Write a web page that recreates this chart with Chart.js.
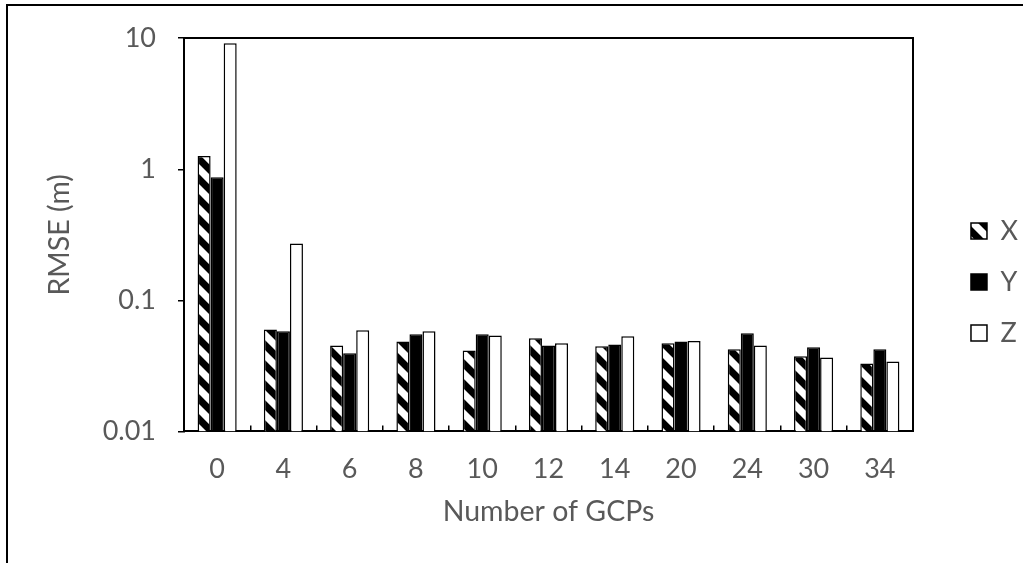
<!DOCTYPE html>
<html>
<head>
<meta charset="utf-8">
<script src="https://cdn.jsdelivr.net/npm/chart.js@4.4.1/dist/chart.umd.min.js"></script>
<style>
  html, body { margin: 0; padding: 0; background: #fff; overflow: hidden; }
  #wrap { position: relative; width: 1023px; height: 563px; }
  #frame { position: absolute; left: 6px; top: 4px; right: -20px; bottom: -20px; border: 2px solid #000; pointer-events: none; }
</style>
</head>
<body>
<div id="wrap">
  <canvas id="rmseChart" width="1023" height="563"></canvas>
  <div id="frame"></div>
</div>
<script>
// number of GCPs on the x axis
var gcps = ['0', '4', '6', '8', '10', '12', '14', '20', '24', '30', '34'];

// RMSE (m) per direction
var rmseX = [1.26, 0.060, 0.0453, 0.0486, 0.0415, 0.0513, 0.0446, 0.047, 0.0423, 0.0374, 0.033];
var rmseY = [0.87, 0.058, 0.0394, 0.055, 0.055, 0.0453, 0.0461, 0.0486, 0.056, 0.0438, 0.0423];
var rmseZ = [9.16, 0.272, 0.059, 0.058, 0.054, 0.047, 0.0531, 0.049, 0.0453, 0.0367, 0.0342];

// y tick labels (log scale)
var yTicks = [0.01, 0.1, 1, 10];
var yTitle = 'RMSE (m)';

var grey = '#595959';
var font = 'Lato, "Open Sans", sans-serif';

// wide diagonal hatch for the X bars
function hatch() {
  var c = document.createElement('canvas');
  c.width = 20; c.height = 20;
  var g = c.getContext('2d');
  g.fillStyle = '#fff';
  g.fillRect(0, 0, 20, 20);
  g.strokeStyle = '#000';
  g.lineWidth = 7;
  g.beginPath();
  g.moveTo(-5, -5); g.lineTo(25, 25);
  g.moveTo(-5, 15); g.lineTo(5, 25);
  g.moveTo(15, -5); g.lineTo(25, 5);
  g.stroke();
  return g.createPattern(c, 'repeat');
}

// y axis title, centred on the plot area
var yTitlePlugin = {
  id: 'yTitle',
  afterDraw: function(chart) {
    var c = chart.ctx, area = chart.chartArea;
    c.save();
    c.translate(60, (area.top + area.bottom) / 2);
    c.rotate(-Math.PI / 2);
    c.fillStyle = grey;
    c.font = '28.5px ' + font;
    c.textAlign = 'center';
    c.textBaseline = 'middle';
    c.fillText(yTitle, 0, 0);
    c.restore();
  }
};

var ctx = document.getElementById('rmseChart');
var rmseChart = new Chart(ctx, {
  type: 'bar',
  data: {
    labels: gcps,
    datasets: [
      { label: 'X', data: rmseX, backgroundColor: hatch(), borderColor: '#000', borderWidth: 1.5 },
      { label: 'Y', data: rmseY, backgroundColor: '#000', borderColor: '#000', borderWidth: 1.5 },
      { label: 'Z', data: rmseZ, backgroundColor: '#fff', borderColor: '#000', borderWidth: 1.5 }
    ]
  },
  plugins: [yTitlePlugin],
  options: {
    responsive: false,
    animation: false,
    categoryPercentage: 0.59,
    barPercentage: 1,
    layout: { padding: { left: 6, right: -5, top: 35, bottom: 34 } },
    plugins: {
      tooltip: { enabled: false },
      legend: {
        position: 'right',
        labels: {
          color: grey,
          font: { family: font, size: 27 },
          boxWidth: 16,
          boxHeight: 16,
          padding: 24
        }
      }
    },
    scales: {
      x: {
        grid: { display: true, drawOnChartArea: false, drawTicks: true, tickLength: -6, color: '#000', lineWidth: 1.5 },
        border: { display: true, color: '#000', width: 2 },
        ticks: { color: grey, font: { family: font, size: 27 }, padding: 28 },
        title: { display: true, text: 'Number of GCPs', color: grey, font: { family: font, size: 28.5 }, padding: { top: -19, bottom: 0 } }
      },
      x2: {
        type: 'linear',
        position: 'top',
        grid: { display: false },
        ticks: { display: false },
        border: { display: true, color: '#000', width: 2 },
        afterFit: function(scale) { scale.height = 0; }
      },
      y: {
        type: 'logarithmic',
        min: 0.01,
        max: 10,
        afterBuildTicks: function(scale) {
          scale.ticks = yTicks.map(function(v) { return { value: v }; });
        },
        afterFit: function(scale) { scale.width = 178; },
        grid: { display: true, drawOnChartArea: false, drawTicks: true, tickLength: 6, color: '#000', lineWidth: 1.5 },
        border: { display: true, color: '#000', width: 2 },
        ticks: {
          color: grey,
          font: { family: font, size: 27 },
          padding: 22,
          callback: function(value) { return String(value); }
        },
        title: { display: false }
      },
      y2: {
        type: 'linear',
        position: 'right',
        grid: { display: false },
        ticks: { display: false },
        border: { display: true, color: '#000', width: 2 },
        afterFit: function(scale) { scale.width = 34; }
      }
    }
  }
});
</script>
</body>
</html>
